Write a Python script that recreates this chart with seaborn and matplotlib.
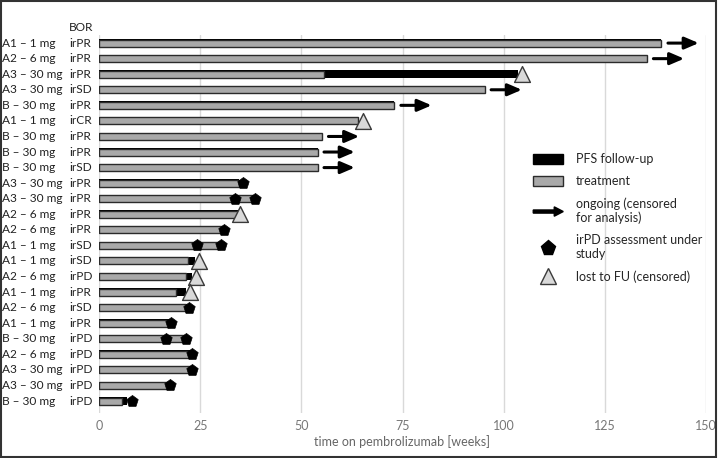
import numpy as np
import pandas as pd
import matplotlib
matplotlib.use("Agg")
import matplotlib.pyplot as plt
import matplotlib.patches as mpatches
from matplotlib.lines import Line2D
from matplotlib.legend_handler import HandlerPatch
from matplotlib.transforms import blended_transform_factory
import seaborn as sns

# Patients, top to bottom
groups = ["A1 – 1 mg", "A2 – 6 mg", "A3 – 30 mg", "A3 – 30 mg", "B – 30 mg",
          "A1 – 1 mg", "B – 30 mg", "B – 30 mg", "B – 30 mg", "A3 – 30 mg",
          "A3 – 30 mg", "A2 – 6 mg", "A2 – 6 mg", "A1 – 1 mg", "A1 – 1 mg",
          "A2 – 6 mg", "A1 – 1 mg", "A2 – 6 mg", "A1 – 1 mg", "B – 30 mg",
          "A2 – 6 mg", "A3 – 30 mg", "A3 – 30 mg", "B – 30 mg"]
bor = ["irPR", "irPR", "irPR", "irSD", "irPR", "irCR", "irPR", "irPR", "irSD",
       "irPR", "irPR", "irPR", "irPR", "irSD", "irSD", "irPD", "irPR", "irSD",
       "irPR", "irPD", "irPD", "irPD", "irPD", "irPD"]

# weeks
treatment = [139, 135.4, 55.7, 95.3, 73, 64, 55.1, 54, 54, 34.6, 38, 34.4,
             31, 30, 22, 21.5, 19, 21.5, 17.6, 21.3, 23, 23, 17.5, 5.8]
pfs_end = [139, 135.4, 103.5, 95.3, 73, 64, 55.1, 54, 54, 34.6, 38, 34.4,
           31, 30, 23.8, 23, 21.5, 21.5, 17.6, 21.3, 23, 23, 17.5, 7]

ongoing_rows = [0, 1, 3, 4, 6, 7, 8]
lost_rows = [2, 5, 11, 14, 15, 16]
lost_time = [104.6, 65.3, 34.9, 24.8, 24, 22.6]
pd_rows = [9, 10, 10, 12, 13, 13, 17, 18, 19, 19, 20, 21, 22, 23]
pd_time = [35.6, 33.7, 38.6, 31, 24.3, 30.2, 22.2, 17.8, 16.6, 21.5, 23.1, 23.1, 17.6, 8.2]

rows = np.arange(len(groups))
df = pd.DataFrame({"row": rows, "treatment": treatment, "pfs": pfs_end})

sns.set_theme(style="whitegrid")
plt.rcParams["font.family"] = ["Lato", "DejaVu Sans"]

fig = plt.figure(figsize=(7.2, 4.58), dpi=100)
ax = fig.add_axes([99 / 720, 45 / 458, 607 / 720, 378 / 458])

grey = "#a9a9a9"
edge = "#2b2b2b"
fs = 8.6

# PFS follow-up underneath, treatment on top
sns.barplot(data=df, x="pfs", y="row", orient="h", native_scale=True,
            color="black", saturation=1, width=0.5, errorbar=None, ax=ax,
            linewidth=0)
sns.barplot(data=df, x="treatment", y="row", orient="h", native_scale=True,
            color=grey, saturation=1, width=0.45, errorbar=None, ax=ax,
            edgecolor=edge, linewidth=1.0)

# ongoing arrows
for r in ongoing_rows:
    x0 = treatment[r] + 1.6
    ax.annotate("", xy=(x0 + 7.6, r), xytext=(x0, r),
                arrowprops=dict(arrowstyle="-|>,head_length=0.7,head_width=0.3",
                                color="black", lw=2.2, shrinkA=0, shrinkB=0))

# markers
pd_df = pd.DataFrame({"time": pd_time, "row": pd_rows})
lost_df = pd.DataFrame({"time": lost_time, "row": lost_rows})
sns.scatterplot(data=pd_df, x="time", y="row", marker="p", s=75, color="black",
                edgecolor="black", linewidth=0.5, ax=ax, zorder=5)
sns.scatterplot(data=lost_df, x="time", y="row", marker="^", s=130, color="#d9d9d9",
                edgecolor="#3a3a3a", linewidth=1.0, ax=ax, zorder=5)

ax.set_xlim(0, 150)
ax.set_ylim(23.77, -0.52)
ax.set_xticks([0, 25, 50, 75, 100, 125, 150])
ax.set_yticks([])
ax.set_ylabel("")
ax.set_xlabel("time on pembrolizumab [weeks]", color="#666666", fontsize=fs + 0.4, labelpad=2)
ax.tick_params(axis="x", length=0, colors="#777777", labelsize=fs + 0.4, pad=5)
ax.grid(axis="x", color="#d9d9d9", linewidth=1)
ax.grid(axis="y", visible=False)
for s in ax.spines.values():
    s.set_visible(False)

# row labels
tr = blended_transform_factory(fig.transFigure, ax.transData)
for r in rows:
    ax.text(2 / 720, r, groups[r], transform=tr, va="center", ha="left",
            fontsize=fs, color="#222222")
    ax.text(69 / 720, r, bor[r], transform=tr, va="center", ha="left",
            fontsize=fs, color="#222222")
ax.text(69 / 720, -1.0, "BOR", transform=tr, va="center", ha="left",
        fontsize=fs, color="#222222")


# legend
def make_arrow(legend, orig_handle, xdescent, ydescent, width, height, fontsize):
    return mpatches.FancyArrow(-xdescent, height / 2 - ydescent, width, 0,
                               width=height * 0.3, head_width=height * 0.9,
                               head_length=width * 0.3, length_includes_head=True,
                               color="black")


arrow_handle = mpatches.FancyArrow(0, 0, 1, 0, color="black")
handles = [
    mpatches.Patch(facecolor="black", edgecolor="black"),
    mpatches.Patch(facecolor=grey, edgecolor=edge, linewidth=1),
    arrow_handle,
    Line2D([], [], marker="p", color="black", linestyle="", markersize=11),
    Line2D([], [], marker="^", markerfacecolor="#d9d9d9", markeredgecolor="#3a3a3a",
           linestyle="", markersize=11),
]
labels = ["PFS follow-up", "treatment", "ongoing (censored\nfor analysis)",
          "irPD assessment under\nstudy", "lost to FU (censored)"]
ax.legend(handles, labels, loc="upper left", bbox_to_anchor=(522 / 720, 316 / 458),
          bbox_transform=fig.transFigure, frameon=False, fontsize=fs + 0.4,
          handlelength=2.4, handleheight=0.9, handletextpad=1.0, labelspacing=0.8,
          handler_map={arrow_handle: HandlerPatch(patch_func=make_arrow)})

# outer frame
fig.patches.append(mpatches.Rectangle((0.002, 0.003), 0.993, 0.994, transform=fig.transFigure,
                                      fill=False, edgecolor="#333333", linewidth=1.5))

fig.savefig("out.png", dpi=100)
